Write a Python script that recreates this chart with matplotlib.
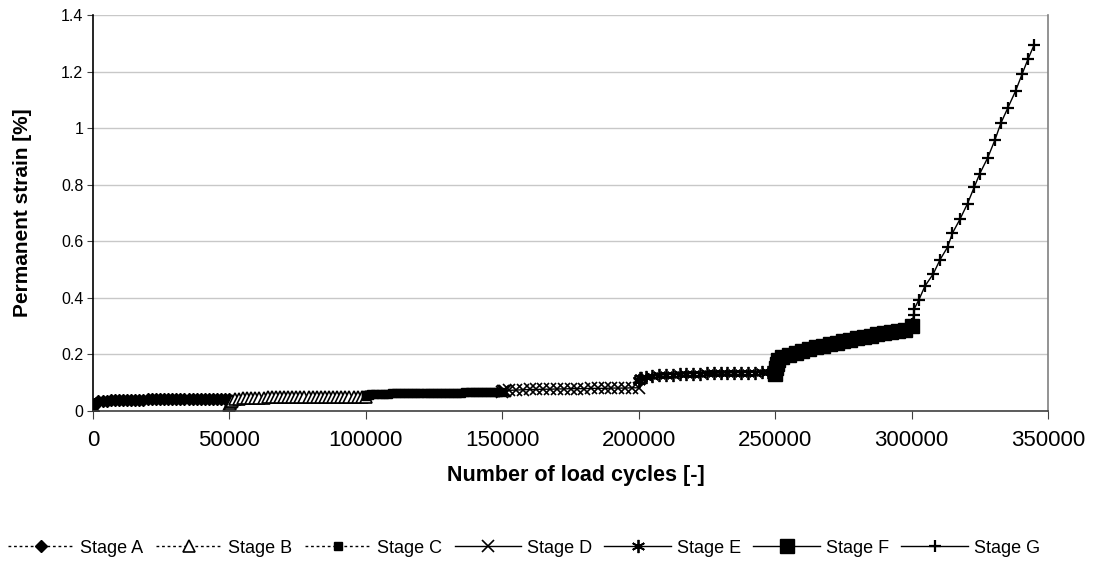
import matplotlib
matplotlib.use('Agg')
import matplotlib.pyplot as plt

plt.rcParams['font.family'] = ['Liberation Sans', 'DejaVu Sans']

# cycles within a stage (dense logging for A-C, coarser for D-F)
sched_dense = [0, 200, 500, 1000, 2000, 3500, 5000, 6500, 8000, 9500, 11000, 12500,
               14000, 15500, 17000, 18500, 20000, 21500, 23000, 24500, 26000, 27500,
               29000, 30500, 32000, 33500, 35000, 36500, 38000, 39500, 41000, 42500,
               44000, 45500, 47000, 48500, 50000]
sched_sparse = [0, 200, 500, 1000, 2500, 5000, 7500, 10000, 12500, 15000, 17500, 20000,
                22500, 25000, 27500, 30000, 32500, 35000, 37500, 40000, 42500, 45000,
                47500, 50000]
stage_start = [0, 50000, 100000, 150000, 200000, 250000]

strain_a = [0.000, 0.015, 0.024, 0.029, 0.033, 0.035, 0.036, 0.037, 0.037, 0.038,
            0.038, 0.038, 0.039, 0.039, 0.039, 0.039, 0.040, 0.040, 0.040, 0.040,
            0.040, 0.040, 0.041, 0.041, 0.041, 0.041, 0.041, 0.041, 0.041, 0.042,
            0.042, 0.042, 0.042, 0.042, 0.042, 0.042, 0.042]
strain_b = [0.020, 0.024, 0.030, 0.036, 0.040, 0.043, 0.044, 0.045, 0.045, 0.046,
            0.046, 0.046, 0.047, 0.047, 0.047, 0.047, 0.047, 0.048, 0.048, 0.048,
            0.048, 0.048, 0.048, 0.049, 0.049, 0.049, 0.049, 0.049, 0.049, 0.049,
            0.050, 0.050, 0.050, 0.050, 0.050, 0.050, 0.050]
strain_c = [0.052, 0.054, 0.056, 0.057, 0.058, 0.059, 0.060, 0.060, 0.060, 0.061,
            0.061, 0.061, 0.061, 0.062, 0.062, 0.062, 0.062, 0.063, 0.063, 0.063,
            0.063, 0.063, 0.064, 0.064, 0.064, 0.064, 0.064, 0.065, 0.065, 0.065,
            0.065, 0.065, 0.066, 0.066, 0.066, 0.066, 0.066]
strain_d = [0.066, 0.068, 0.070, 0.071, 0.072, 0.073, 0.074, 0.075, 0.075, 0.076,
            0.076, 0.077, 0.077, 0.078, 0.078, 0.078, 0.079, 0.079, 0.079, 0.080,
            0.080, 0.080, 0.081, 0.081]
strain_e = [0.105, 0.110, 0.114, 0.117, 0.120, 0.123, 0.125, 0.127, 0.128, 0.129,
            0.130, 0.131, 0.131, 0.132, 0.132, 0.133, 0.133, 0.134, 0.134, 0.135,
            0.135, 0.136, 0.136, 0.137]
strain_f = [0.130, 0.150, 0.165, 0.178, 0.190, 0.198, 0.205, 0.211, 0.218, 0.224,
            0.230, 0.236, 0.241, 0.246, 0.251, 0.256, 0.261, 0.266, 0.270, 0.274,
            0.278, 0.282, 0.286, 0.300]
cycles_g = [300000, 300700, 301000, 302700, 304900, 308000, 310400, 313200, 314900,
            317700, 320500, 323000, 325000, 327900, 330500, 332700, 335200, 338100,
            340500, 342700, 344900]
strain_g = [0.305, 0.337, 0.361, 0.393, 0.441, 0.485, 0.534, 0.579, 0.627, 0.677,
            0.733, 0.792, 0.839, 0.895, 0.957, 1.017, 1.070, 1.131, 1.191, 1.245, 1.294]

labels = ['Stage A', 'Stage B', 'Stage C', 'Stage D', 'Stage E', 'Stage F', 'Stage G']

dot = (0, (2, 2))
styles = [
    dict(ls=dot, marker='D', ms=6.5, mfc='k'),
    dict(ls=dot, marker='^', ms=8, mfc='white', mew=1.2),
    dict(ls=dot, marker='s', ms=5.5, mfc='k'),
    dict(ls='-', marker='x', ms=9, mew=1.2),
    dict(ls='-', marker=(6, 2, 0), ms=9.5, mew=1.3),
    dict(ls='-', marker='s', ms=10.5, mfc='k'),
    dict(ls='-', marker='+', ms=9, mew=1.6),
]

series = [strain_a, strain_b, strain_c, strain_d, strain_e, strain_f]

fig = plt.figure(figsize=(10.98, 5.74), dpi=100)
ax = fig.add_axes([0.0847, 0.2845, 0.8698, 0.6894])

handles = []
for i, vals in enumerate(series):
    sched = sched_dense if len(vals) == len(sched_dense) else sched_sparse
    xs = [stage_start[i] + c for c in sched]
    h, = ax.plot(xs, vals, color='k', lw=1, mec='k', label=labels[i], **styles[i])
    handles.append(h)
h, = ax.plot(cycles_g, strain_g, color='k', lw=1, mec='k', label=labels[6], **styles[6])
handles.append(h)

ax.set_xlim(0, 350000)
ax.set_ylim(0, 1.4)
ax.set_xticks(range(0, 350001, 50000))
ax.set_yticks([0, 0.2, 0.4, 0.6, 0.8, 1, 1.2, 1.4])
ax.set_yticklabels(['0', '0.2', '0.4', '0.6', '0.8', '1', '1.2', '1.4'])
ax.tick_params(axis='x', labelsize=16, length=6, color='#404040', pad=8)
ax.tick_params(axis='y', labelsize=11.5, length=4, color='#404040', pad=3)
ax.grid(axis='y', color='#c8c8c8', lw=1)
ax.set_axisbelow(True)

ax.spines['top'].set_visible(False)
ax.spines['left'].set_color('k')
ax.spines['bottom'].set_color('#404040')
ax.spines['right'].set_color('#808080')
for s in ax.spines.values():
    s.set_linewidth(1.2)

ax.set_xlabel('Number of load cycles [-]', fontsize=15.5, fontweight='bold')
ax.set_ylabel('Permanent strain [%]', fontsize=15, fontweight='bold')
ax.xaxis.set_label_coords(0.506, -0.138)
ax.yaxis.set_label_coords(-0.064, 0.5)

fig.legend(handles=handles, loc='center', bbox_to_anchor=(0.477, 0.045), ncol=7,
           frameon=False, fontsize=13, handlelength=3.7, handletextpad=0.3,
           columnspacing=0.7)

fig.savefig('out.png', dpi=100)
